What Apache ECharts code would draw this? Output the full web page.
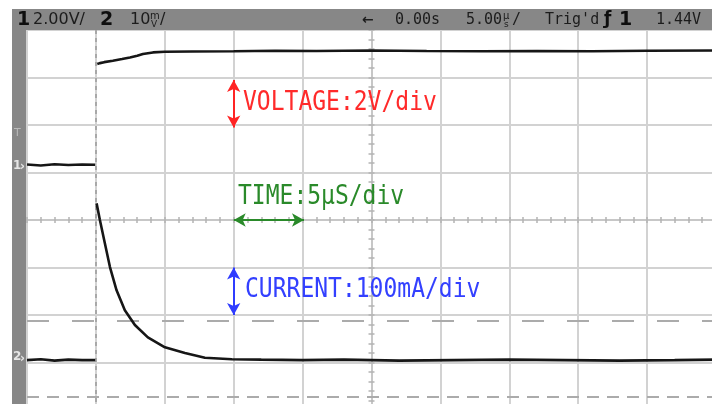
<!DOCTYPE html>
<html><head><meta charset="utf-8">
<script src="https://cdn.jsdelivr.net/npm/echarts@6/dist/echarts.min.js"></script>
<style>html,body{margin:0;padding:0;background:#fff;overflow:hidden;width:712px;height:404px}#c{width:717px;height:410px}</style>
</head><body><div id="c"></div>
<script>
// Channel 1: voltage (V) vs time (µs)
const voltTime  = [-5, -4, -3, -2, -1, -0.05, 0.02, 0.1, 0.29, 0.6, 1.23, 1.9, 2.47, 3.0, 3.41, 4.14, 5, 7, 10, 13, 16, 20, 24, 28, 32, 36, 40, 45];
const voltValue = [0.02, -0.02, 0.03, 0, 0.02, 0.01, null, 4.25, 4.29, 4.33, 4.39, 4.46, 4.53, 4.6, 4.67, 4.74, 4.77, 4.78, 4.79, 4.81, 4.8, 4.82, 4.8, 4.79, 4.8, 4.79, 4.81, 4.82];
// Channel 2: current (mA) vs time (µs)
const currTime  = [-5, -4, -3, -2, -1, -0.05, 0.02, 0.05, 0.29, 0.65, 1.02, 1.5, 2.1, 2.83, 3.77, 5.01, 6.46, 7.91, 9.87, 12, 15, 18, 22, 26, 30, 34, 38, 42, 45];
const currValue = [0, 2, -1, 1, 0, 0, null, 330, 295, 246, 196, 147, 105, 74, 48, 27, 15, 5, 2, 1, 0, 1, -1, 0, 1, 0, -1, 0, 1];
// cursor reference levels (mA)
const cursorLevels = [82, -78];
// scale annotations (µs, divisions)
const voltArrow = [[10, 2.95], [10, 1.95]];
const timeArrow = [[10, 0], [15.1, 0]];
const currArrow = [[10, -1], [10, -2]];
const annotationTexts = ['VOLTAGE:2V/div', 'TIME:5μS/div', 'CURRENT:100mA/div'];
// header readouts
const headerTexts = {ch1:'1', ch1Scale:'2.00V/', ch2:'2', ch2Scale:'10', ch2UnitTop:'m', ch2UnitBot:'V', delayArrow:'←', delay:'0.00s', timeScale:'5.00', timeUnitTop:'µ', timeUnitBot:'s', trig:"Trig'd", slope:'ƒ', trigCh:'1', trigLevel:'1.44V'};

const chart = echarts.init(document.getElementById('c'), null, {renderer:'canvas'});
const gridCol = '#d2d2d2';
const tickCol = '#b4b4b4';
const xTickAxis = (inside) => ({
  type:'value', min:-5, max:45, interval:5, position:'bottom',
  axisLine:{show:true, onZero:true, onZeroAxisIndex:0, lineStyle:{color:'#c6c6c6', width:1.5}},
  axisTick:{show:true, inside:inside, length:3, lineStyle:{color:tickCol, width:1.5}},
  minorTick:{show:true, splitNumber:5, length:3, lineStyle:{color:tickCol, width:1.5}},
  axisLabel:{show:false},
  splitLine:{show:!inside, lineStyle:{color:gridCol, width:2}},
  minorSplitLine:{show:false}
});
const yTickAxis = (inside) => ({
  type:'value', min:-4, max:4, interval:1, position:'left',
  axisLine:{show:true, onZero:true, onZeroAxisIndex:2, lineStyle:{color:'#c6c6c6', width:1.5}},
  axisTick:{show:true, inside:inside, length:3, lineStyle:{color:tickCol, width:1.5}},
  minorTick:{show:true, splitNumber:5, length:3, lineStyle:{color:tickCol, width:1.5}},
  axisLabel:{show:false},
  splitLine:{show:!inside, lineStyle:{color:gridCol, width:2}},
  minorSplitLine:{show:false}
});
const arrowItem = (pts, color) => [
  {coord: pts[0], lineStyle:{color:color, width:2, type:'solid'}},
  {coord: pts[1]}
];
const hdr = (text, x, font, fill, y) => ({type:'text', x:x, y:(y===undefined?20:y), z:10,
  style:{text:text, font:font, fill:fill||'#1c1c1c', verticalAlign:'middle', align:'left'}});
const monoFont = '23px "DejaVu Sans Mono"';

chart.setOption({
  animation:false,
  backgroundColor:'#ffffff',
  grid:{left:27, top:30, width:689, height:380, containLabel:false, show:false},
  xAxis:[xTickAxis(false), xTickAxis(true), {type:'value', min:-25, max:25, show:false, position:'top'}],
  yAxis:[yTickAxis(false), yTickAxis(true),
    {type:'value', min:-10.316, max:5.684, show:false, position:'right'},
    {type:'value', min:-105, max:695, show:false, position:'right'}],
  series:[
    {name:'Voltage', type:'line', xAxisIndex:0, yAxisIndex:2, showSymbol:false, connectNulls:false, z:5,
     data: voltTime.map((t,i)=>[t, voltValue[i]]),
     lineStyle:{color:'#161616', width:2.6},
     markLine:{silent:true, symbol:'none', label:{show:false}, z:3,
       lineStyle:{color:'#9a9a9a', width:1.5, type:[4,4]},
       data:[{xAxis:0}]}},
    {name:'Current', type:'line', xAxisIndex:0, yAxisIndex:3, showSymbol:false, connectNulls:false, z:5,
     data: currTime.map((t,i)=>[t, currValue[i]]),
     lineStyle:{color:'#161616', width:2.6},
     markLine:{silent:true, symbol:'none', label:{show:false}, z:3,
       data:[
         {yAxis:cursorLevels[0], lineStyle:{color:'#ababab', width:2.2, type:[22,23]}},
         {yAxis:cursorLevels[1], lineStyle:{color:'#ababab', width:2.2, type:[12,8]}}
       ]}},
    {name:'Annotations', type:'line', xAxisIndex:0, yAxisIndex:0, data:[], z:6,
     markLine:{silent:true, symbol:['arrow','arrow'], symbolSize:[10,12], label:{show:false},
       data:[arrowItem(voltArrow,'#ff2424'), arrowItem(timeArrow,'#2a8a2a'), arrowItem(currArrow,'#2f3cff')]}}
  ],
  graphic:[
    {type:'rect', shape:{x:12, y:9, width:705, height:21}, style:{fill:'#878787'}, z:9},
    {type:'rect', shape:{x:12, y:9, width:14, height:401}, style:{fill:'#878787'}, z:9},
    hdr(headerTexts.ch1, 17, 'bold 19px "DejaVu Sans"', '#0e0e0e'),
    hdr(headerTexts.ch1Scale, 33, '16px "DejaVu Sans"'),
    hdr(headerTexts.ch2, 100, 'bold 19px "DejaVu Sans"', '#0e0e0e'),
    hdr(headerTexts.ch2Scale, 130, '16px "DejaVu Sans"'),
    hdr(headerTexts.ch2UnitTop, 150, '10px "DejaVu Sans"', '#1c1c1c', 16),
    hdr(headerTexts.ch2UnitBot, 151, '9px "DejaVu Sans"', '#1c1c1c', 25),
    hdr('/', 160, '16px "DejaVu Sans"'),
    hdr(headerTexts.delayArrow, 362, 'bold 14px "DejaVu Sans"'),
    hdr(headerTexts.delay, 395, '15px "DejaVu Sans Mono"'),
    hdr(headerTexts.timeScale, 466, '15px "DejaVu Sans Mono"'),
    hdr(headerTexts.timeUnitTop, 503, '10px "DejaVu Sans"', '#1c1c1c', 16),
    hdr(headerTexts.timeUnitBot, 504, '9px "DejaVu Sans"', '#1c1c1c', 25),
    hdr('/', 512, '15px "DejaVu Sans Mono"'),
    hdr(headerTexts.trig, 545, '15px "DejaVu Sans Mono"'),
    hdr(headerTexts.slope, 604, 'bold 17px "DejaVu Sans"', '#0e0e0e'),
    hdr(headerTexts.trigCh, 619, 'bold 19px "DejaVu Sans"', '#0e0e0e'),
    hdr(headerTexts.trigLevel, 656, '15px "DejaVu Sans Mono"'),
    hdr('T', 14, '11px "DejaVu Sans"', '#b9b9b9', 133),
    hdr('1', 13, 'bold 12px "DejaVu Sans"', '#e6e6e6', 166),
    hdr('›', 20, 'bold 12px "DejaVu Sans"', '#e6e6e6', 167),
    hdr('2', 13, 'bold 12px "DejaVu Sans"', '#e6e6e6', 357),
    hdr('›', 20, 'bold 12px "DejaVu Sans"', '#e6e6e6', 359),
    {type:'text', x:243, y:103, z:10, scaleY:1.15,
     style:{text:annotationTexts[0], font:monoFont, fill:'#ff2a2a', verticalAlign:'middle'}},
    {type:'text', x:238, y:197, z:10, scaleY:1.15,
     style:{text:annotationTexts[1], font:monoFont, fill:'#2a8a2a', verticalAlign:'middle'}},
    {type:'text', x:245, y:290, z:10, scaleY:1.15,
     style:{text:annotationTexts[2], font:monoFont, fill:'#3340ff', verticalAlign:'middle'}}
  ]
});
</script></body></html>
